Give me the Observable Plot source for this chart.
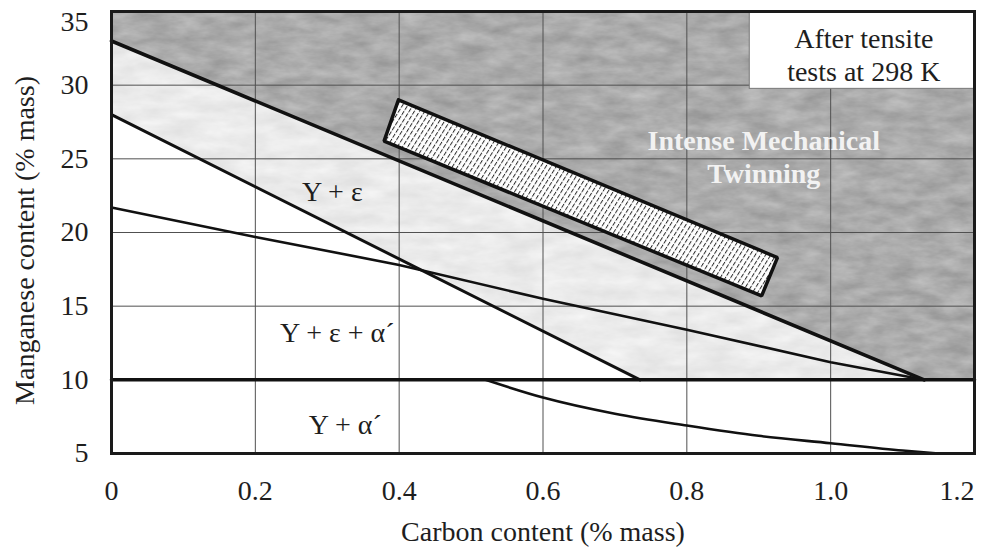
<!DOCTYPE html>
<html>
<head>
<meta charset="utf-8">
<script src="https://cdn.jsdelivr.net/npm/d3@7"></script>
<script src="https://cdn.jsdelivr.net/npm/@observablehq/plot@0.6"></script>
<style>
  html, body { margin: 0; padding: 0; background: #fff; }
  #chart svg { display: block; overflow: visible; }
</style>
</head>
<body>
<div id="chart"></div>
<script>
// Axis ticks
const carbonTicks = [0, 0.2, 0.4, 0.6, 0.8, 1.0, 1.2];
const manganeseTicks = [5, 10, 15, 20, 25, 30, 35];

// Phase boundaries: carbon (% mass) vs manganese (% mass)
const twinningC = [0, 1.13];            // onset of intense mechanical twinning
const twinningMn = [33, 10];
const epsilonC = [0, 0.735];            // γ+ε / γ+ε+α′ boundary
const epsilonMn = [28, 10];
const alphaC = [0, 0.2, 0.4, 0.6, 0.8, 1.0, 1.13];
const alphaMn = [21.7, 19.7, 17.8, 15.5, 13.4, 11.2, 10];
const martensiteC = [0, 1.2];           // horizontal boundary at 10 % Mn
const martensiteMn = [10, 10];
const lowerC = [0.52, 0.6, 0.7, 0.8, 0.9, 1.0, 1.1, 1.15];
const lowerMn = [10, 8.8, 7.7, 6.9, 6.2, 5.7, 5.2, 5.0];

// Experimental window (hatched band)
const bandC = [0.399, 0.926, 0.904, 0.379];
const bandMn = [29.0, 18.3, 15.7, 26.2];

// Region labels
const regionNames = ["Y + ε", "Y + ε + α´", "Y + α´"];
const regionC = [0.307, 0.314, 0.325];
const regionMn = [22.75, 13.2, 6.9];

const twinningLabel = "Intense Mechanical\nTwinning";
const twinningLabelAt = [0.907, 25.2];
const noteText = "After tensite\ntests at 298 K";
const noteBoxC = [0.8875, 1.2];
const noteBoxMn = [29.75, 35];
const noteAt = [1.046, 32.1];

const pts = (xs, ys) => xs.map((x, i) => ({c: x, mn: ys[i]}));
const twinLine = pts(twinningC, twinningMn);
const epsLine = pts(epsilonC, epsilonMn);
const alphaLine = pts(alphaC, alphaMn);
const tenLine = pts(martensiteC, martensiteMn);
const lowerLine = pts(lowerC, lowerMn);
const band = pts(bandC, bandMn);
const [xMin, xMax] = d3.extent(carbonTicks);
const [yMin, yMax] = d3.extent(manganeseTicks);

// Filled phase fields built from the boundary points
const twinField = [
  ...twinLine,
  {c: xMax, mn: twinningMn[1]},
  {c: xMax, mn: yMax},
  {c: xMin, mn: yMax}
];
const epsField = [
  ...twinLine,
  ...epsLine.slice().reverse()
];

const serif = "'Liberation Serif', 'Times New Roman', serif";
const fmt = d => d === 0 ? "0" : d3.format(".1f")(d);

const chart = Plot.plot({
  width: 981,
  height: 550,
  marginLeft: 111,
  marginRight: 7,
  marginTop: 11,
  marginBottom: 97,
  style: {fontFamily: serif, fontSize: "28px", color: "#1e1e1e", background: "#fff"},
  x: {domain: [xMin, xMax]},
  y: {domain: [yMin, yMax]},
  marks: [
    Plot.line(twinField, {x: "c", y: "mn", fill: "#929292", stroke: "none", className: "mottled"}),
    Plot.line(epsField, {x: "c", y: "mn", fill: "#dfdfdf", stroke: "none", className: "mottled-light"}),
    Plot.gridX(carbonTicks, {stroke: "#505050", strokeOpacity: 1, strokeWidth: 1}),
    Plot.gridY(manganeseTicks, {stroke: "#505050", strokeOpacity: 1, strokeWidth: 1}),
    Plot.rect([0], {x1: noteBoxC[0], x2: noteBoxC[1], y1: noteBoxMn[0], y2: noteBoxMn[1], fill: "#fff", stroke: "#777", strokeWidth: 1}),
    Plot.line(alphaLine, {x: "c", y: "mn", stroke: "#111", strokeWidth: 2.6}),
    Plot.line(epsLine, {x: "c", y: "mn", stroke: "#111", strokeWidth: 3}),
    Plot.line(twinLine, {x: "c", y: "mn", stroke: "#111", strokeWidth: 3.6}),
    Plot.line(lowerLine, {x: "c", y: "mn", stroke: "#111", strokeWidth: 2.6, curve: "monotone-x"}),
    Plot.line(tenLine, {x: "c", y: "mn", stroke: "#111", strokeWidth: 3.5}),
    Plot.line([...band, band[0]], {x: "c", y: "mn", fill: "url(#hatch)", stroke: "#111", strokeWidth: 3.5, strokeLinejoin: "miter"}),
    Plot.text(regionNames, {x: (d, i) => regionC[i], y: (d, i) => regionMn[i], text: d => d, fontSize: 28, fill: "#1e1e1e"}),
    Plot.text([twinningLabel], {x: twinningLabelAt[0], y: twinningLabelAt[1], fontSize: 28, fontWeight: "bold", fill: "#f2f2f2", lineHeight: 1.18}),
    Plot.text([noteText], {x: noteAt[0], y: noteAt[1], fontSize: 28, fill: "#1e1e1e", lineHeight: 1.18}),
    Plot.frame({stroke: "#1a1a1a", strokeWidth: 3}),
    Plot.axisX(carbonTicks.slice(0, -1), {tickSize: 0, tickPadding: 27, fontSize: 28, label: null, tickFormat: fmt}),
    Plot.axisX(carbonTicks.slice(-1), {tickSize: 0, tickPadding: 27, fontSize: 28, label: null, tickFormat: fmt, textAnchor: "end"}),
    Plot.axisY(manganeseTicks.slice(0, -1), {tickSize: 0, tickPadding: 23, fontSize: 28, label: null}),
    Plot.axisY(manganeseTicks.slice(-1), {tickSize: 0, tickPadding: 23, fontSize: 28, label: null, dy: 11}),
    Plot.text(["Carbon content (% mass)"], {frameAnchor: "bottom", dy: 79, lineAnchor: "middle", textAnchor: "middle", fontSize: 28, fill: "#1e1e1e"}),
    Plot.text(["Manganese content (% mass)"], {frameAnchor: "left", dx: -86, dy: 8, rotate: -90, textAnchor: "middle", lineAnchor: "middle", fontSize: 28, fill: "#1e1e1e"})
  ]
});

// Pattern and texture definitions
const svg = d3.select(chart);
const defs = svg.insert("defs", ":first-child");
const hatch = defs.append("pattern")
  .attr("id", "hatch")
  .attr("patternUnits", "userSpaceOnUse")
  .attr("width", 4.4).attr("height", 6)
  .attr("patternTransform", "rotate(32)");
hatch.append("rect").attr("width", 4.4).attr("height", 6).attr("fill", "#fff");
hatch.append("line").attr("x1", 0.5).attr("y1", 0).attr("x2", 0.5).attr("y2", 6)
  .attr("stroke", "#2a2a2a").attr("stroke-width", 1).attr("stroke-dasharray", "4.5 1.5");

// Paper-like mottling: a gray level around `base`, varied by fractal noise, clipped to the field
function addMottle(id, seed, base, amount, freq) {
  const f = defs.append("filter").attr("id", id)
    .attr("filterUnits", "userSpaceOnUse")
    .attr("color-interpolation-filters", "sRGB")
    .attr("x", 0).attr("y", 0).attr("width", 981).attr("height", 550);
  f.append("feTurbulence").attr("type", "fractalNoise")
    .attr("baseFrequency", freq).attr("numOctaves", 4).attr("seed", seed).attr("result", "noise");
  const off = base - amount / 2;
  f.append("feColorMatrix").attr("in", "noise").attr("type", "matrix")
    .attr("values", `0 0 0 ${amount} ${off}  0 0 0 ${amount} ${off}  0 0 0 ${amount} ${off}  0 0 0 0 1`)
    .attr("result", "tex");
  f.append("feComposite").attr("in", "tex").attr("in2", "SourceGraphic").attr("operator", "in");
}
addMottle("mottle-dark", 3, 0.67, 0.2, "0.035 0.09");
addMottle("mottle-light", 8, 0.92, 0.1, "0.03 0.08");
svg.selectAll(".mottled path").attr("filter", "url(#mottle-dark)");
svg.selectAll(".mottled-light path").attr("filter", "url(#mottle-light)");

document.getElementById("chart").appendChild(chart);
</script>
</body>
</html>
